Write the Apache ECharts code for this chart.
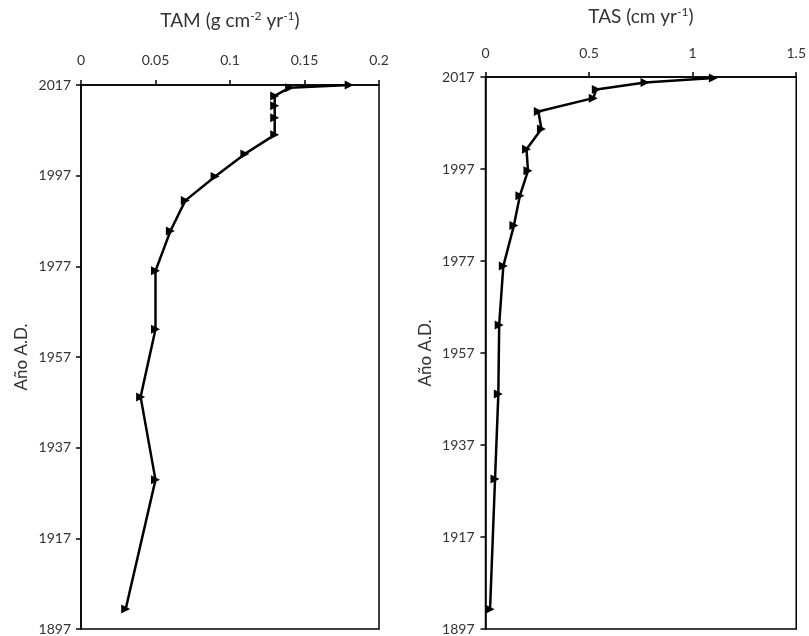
<!DOCTYPE html>
<html>
<head>
<meta charset="utf-8">
<script src="https://cdn.jsdelivr.net/npm/echarts@6/dist/echarts.min.js"></script>
<style>
html,body{margin:0;padding:0;background:#fff;}
#c{width:809px;height:636px;}
</style>
</head>
<body>
<div id="c"></div>
<script>
// Data
var tamYears = [2017, 2016.4, 2014.6, 2012.4, 2009.8, 2006, 2001.8, 1996.8, 1991.5, 1984.8, 1976, 1963.1, 1948.2, 1929.9, 1901.4];
var tamValues = [0.18, 0.14, 0.13, 0.13, 0.13, 0.13, 0.11, 0.09, 0.07, 0.06, 0.05, 0.05, 0.04, 0.05, 0.03];
var tasYears = [2016.8, 2015.8, 2014.3, 2012.4, 2009.5, 2005.7, 2001.3, 1996.6, 1991.2, 1984.7, 1975.9, 1963.1, 1948.1, 1929.6, 1901.3];
var tasValues = [1.10, 0.77, 0.535, 0.52, 0.255, 0.27, 0.198, 0.205, 0.166, 0.137, 0.086, 0.066, 0.062, 0.046, 0.022];
var yearTicks = [1897, 1917, 1937, 1957, 1977, 1997, 2017];
var tamTicks = [0, 0.05, 0.1, 0.15, 0.2];
var tasTicks = [0, 0.5, 1, 1.5];

var FONT = 'Lato';
var txt = '#333';

function pairs(xs, ys) {
  return xs.map(function (v, i) { return [v, ys[i]]; });
}

var titleRich = {
  a: {fontSize: 19, fontFamily: FONT, color: txt, lineHeight: 22},
  s: {fontSize: 12, fontFamily: FONT, color: txt, verticalAlign: 'top', lineHeight: 22, padding: [0, 0, 8, 0]}
};

function xAxisDef(gi, max, interval, name, gap, margin) {
  return {
    gridIndex: gi, type: 'value', position: 'top', min: 0, max: max, interval: interval,
    name: name, nameLocation: 'middle', nameGap: gap,
    nameTextStyle: {rich: titleRich},
    axisLine: {show: true, onZero: false, lineStyle: {color: '#000', width: 1.5}},
    axisTick: {show: true, inside: false, length: 5, lineStyle: {color: '#000', width: 1.5}},
    axisLabel: {margin: margin, fontSize: 14, fontFamily: FONT, color: txt,
      formatter: function (v) { return String(v); }},
    splitLine: {show: false}
  };
}

function yAxisDef(gi, gap, margin) {
  return {
    gridIndex: gi, type: 'value', min: 1897, max: 2017,
    name: 'Año A.D.', nameLocation: 'middle', nameGap: gap, nameRotate: 90,
    nameTextStyle: {fontSize: 17, fontFamily: FONT, color: txt},
    axisLine: {show: true, onZero: false, lineStyle: {color: '#000', width: 1.5}},
    axisTick: {show: true, inside: false, length: 5, customValues: yearTicks, lineStyle: {color: '#000', width: 1.5}},
    axisLabel: {margin: margin, fontSize: 14, fontFamily: FONT, color: txt, customValues: yearTicks,
      formatter: function (v) { return String(v); }},
    splitLine: {show: false}
  };
}

function seriesDef(gi, xs, ys) {
  return {
    type: 'line', xAxisIndex: gi, yAxisIndex: gi,
    data: pairs(xs, ys),
    symbol: 'triangle', symbolSize: [9, 9], symbolRotate: -90,
    showSymbol: true,
    lineStyle: {color: '#000', width: 2.5},
    itemStyle: {color: '#000'},
    animation: false, silent: true
  };
}

var chart = echarts.init(document.getElementById('c'), null, {renderer: 'canvas'});
chart.setOption({
  backgroundColor: '#fff',
  animation: false,
  grid: [
    {left: 81, top: 85, width: 298, height: 544, show: true, borderColor: '#000', borderWidth: 1.5, backgroundColor: 'transparent'},
    {left: 485.5, top: 77, width: 312, height: 552, show: true, borderColor: '#000', borderWidth: 1.5, backgroundColor: 'transparent'}
  ],
  xAxis: [
    xAxisDef(0, 0.2, 0.05, '{a|TAM (g cm}{s|-2}{a| yr}{s|-1}{a|)}', 53, 18),
    xAxisDef(1, 1.5, 0.5, '{a|TAS (cm yr}{s|-1}{a|)}', 49, 17)
  ],
  yAxis: [
    yAxisDef(0, 51, 10),
    yAxisDef(1, 51, 11)
  ],
  series: [
    seriesDef(0, tamValues, tamYears),
    seriesDef(1, tasValues, tasYears)
  ]
});
</script>
</body>
</html>
